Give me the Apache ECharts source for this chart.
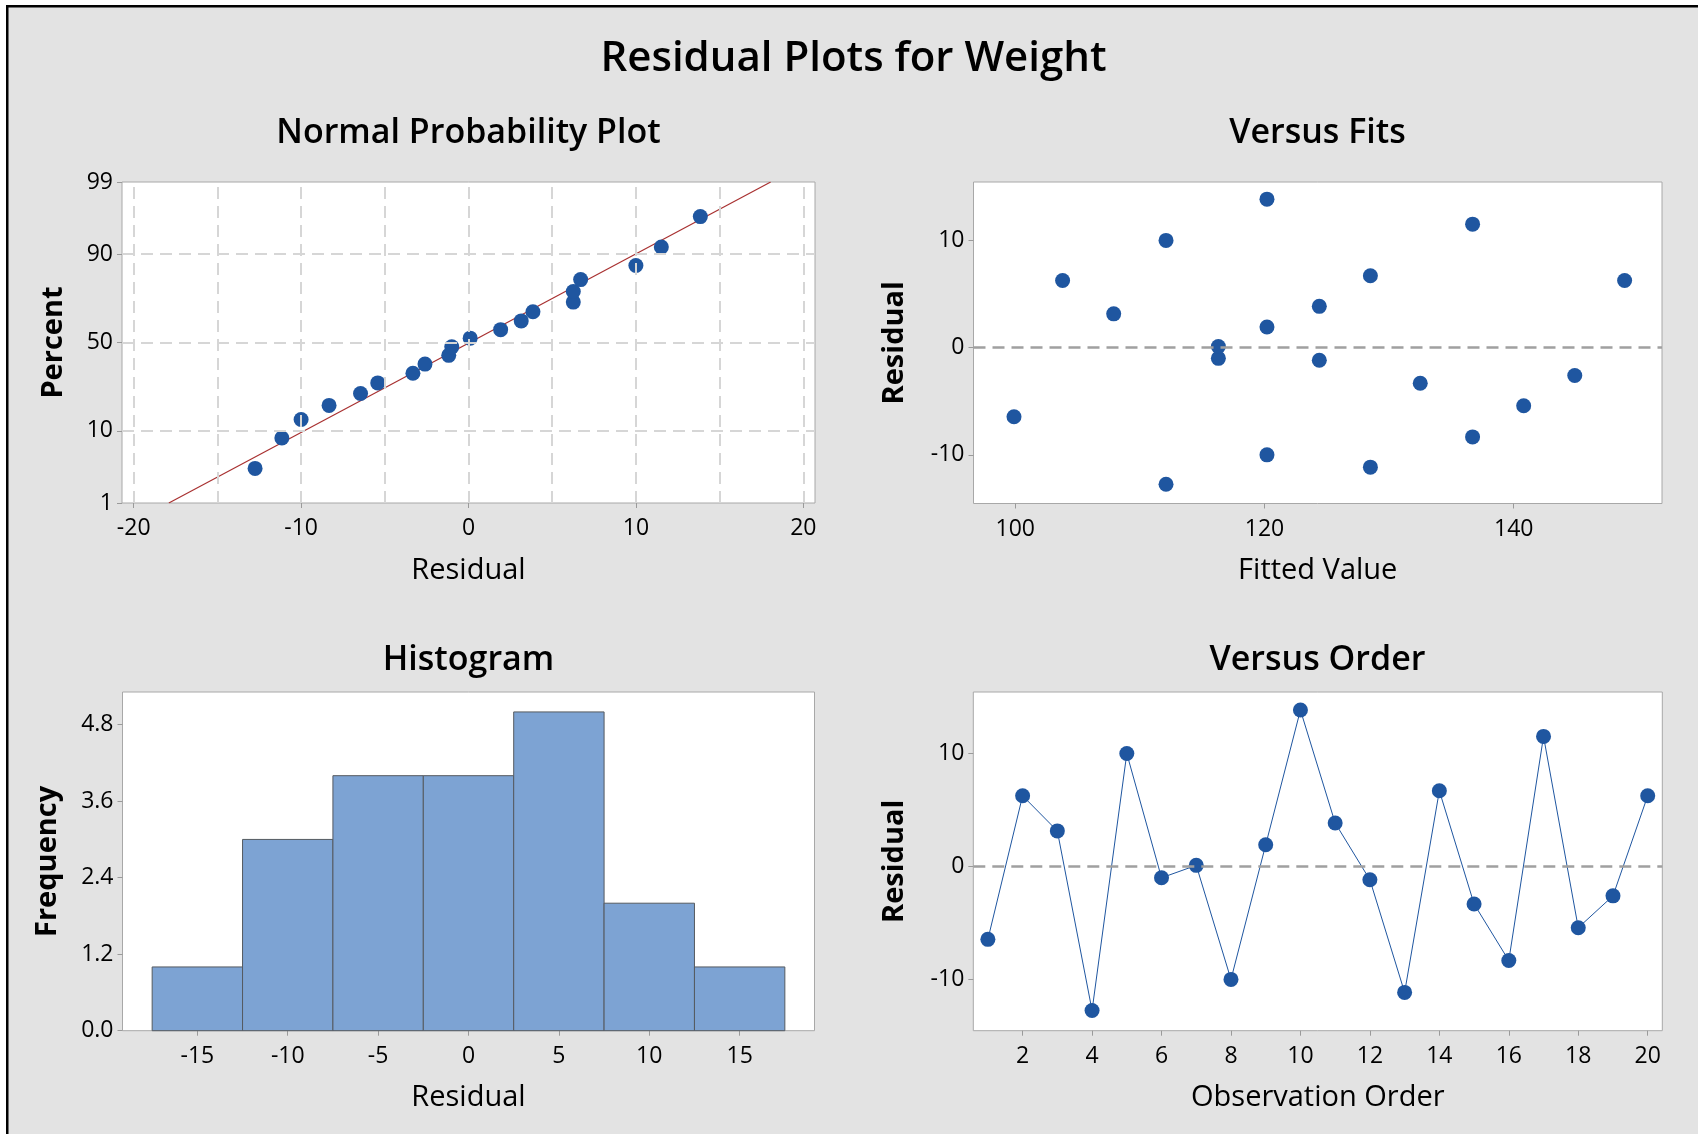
<!DOCTYPE html>
<html><head><meta charset="utf-8">
<script src="https://cdn.jsdelivr.net/npm/echarts@6/dist/echarts.min.js"></script>
<style>html,body{margin:0;padding:0;background:#fff;} #c{width:1698px;height:1134px;}</style>
</head><body><div id="c"></div>
<script>
// ---------------- data ----------------
const observationOrder = [1,2,3,4,5,6,7,8,9,10,11,12,13,14,15,16,17,18,19,20];
const fittedValues = [99.9,103.8,107.9,112.1,112.1,116.3,116.3,120.2,120.2,120.2,124.4,124.4,128.5,128.5,132.5,136.7,136.7,140.8,144.9,148.9];
const residuals = [-6.45,6.26,3.15,-12.75,10.0,-1.0,0.1,-10.0,1.92,13.85,3.85,-1.18,-11.15,6.7,-3.32,-8.33,11.52,-5.42,-2.6,6.26];
const normalPercent = [3.4,8.3,13.2,18.1,23.0,27.9,32.8,37.7,42.6,47.5,52.5,57.4,62.3,67.2,72.1,77.0,81.9,86.8,91.7,96.6];
const fitLineResidual = [-17.9, 18.05];
const fitLinePercent = [1, 99];
const binCenters = [-15,-10,-5,0,5,10,15];
const binCounts = [1,3,4,4,5,2,1];
const binWidth = 5;

// tick labels
const normalXTicks = [-20,-10,0,10,20];
const normalXGrid = [-20,-15,-10,-5,0,5,10,15,20];
const percentTicks = [1,10,50,90,99];
const percentGrid = [10,50,90,99];
const fitsXTicks = [100,120,140];
const residualTicks = [-10,0,10];
const histXTicks = [-15,-10,-5,0,5,10,15];
const freqTicks = [0,1.2,2.4,3.6,4.8];
const orderTicks = [2,4,6,8,10,12,14,16,18,20];

// ---------------- helpers ----------------
function probit(p){
 const a=[-3.969683028665376e+01,2.209460984245205e+02,-2.759285104469687e+02,1.383577518672690e+02,-3.066479806614716e+01,2.506628277459239e+00];
 const b=[-5.447609879822406e+01,1.615858368580409e+02,-1.556989798598866e+02,6.680131188771972e+01,-1.328068155288572e+01];
 const c=[-7.784894002430293e-03,-3.223964580411365e-01,-2.400758277161838e+00,-2.549732539343734e+00,4.374664141464968e+00,2.938163982698783e+00];
 const d=[7.784695709041462e-03,3.224671290700398e-01,2.445134137142996e+00,3.754408661907416e+00];
 const pl=0.02425, ph=1-pl; let q,r;
 if(p<pl){q=Math.sqrt(-2*Math.log(p));return (((((c[0]*q+c[1])*q+c[2])*q+c[3])*q+c[4])*q+c[5])/((((d[0]*q+d[1])*q+d[2])*q+d[3])*q+1);}
 if(p<=ph){q=p-0.5;r=q*q;return (((((a[0]*r+a[1])*r+a[2])*r+a[3])*r+a[4])*r+a[5])*q/(((((b[0]*r+b[1])*r+b[2])*r+b[3])*r+b[4])*r+1);}
 q=Math.sqrt(-2*Math.log(1-p));return -(((((c[0]*q+c[1])*q+c[2])*q+c[3])*q+c[4])*q+c[5])/((((d[0]*q+d[1])*q+d[2])*q+d[3])*q+1);
}
const FONT = '"Open Sans", "Noto Sans", sans-serif';
const DOT = '#1f56a0';
const TICKCOL = '#9a9a9a';
const DOTSIZE = 15;
const sortedResiduals = residuals.slice().sort((x,y)=>x-y);
const zTicks = percentTicks.map(p=>probit(p/100));

function valAxis(gridIndex, min, max, ticks, fmt, name, nameGap, isY){
  return {
    type:'value', gridIndex, min, max,
    axisLine:{show:false, onZero:false}, splitLine:{show:false}, axisPointer:{show:false},
    axisTick:{show:true, length:5, customValues:ticks, lineStyle:{color:TICKCOL, width:1}},
    axisLabel:{customValues:ticks, formatter:fmt, color:'#000', fontSize:23, fontFamily:FONT, margin: isY?9:14},
    name, nameLocation:'middle', nameGap,
    nameTextStyle: isY ? {fontSize:29, fontWeight:'bold', fontFamily:FONT, color:'#000'}
                       : {fontSize:29, fontFamily:FONT, color:'#000'}
  };
}
const gridStyle = {show:true, backgroundColor:'#fff', borderColor:'#a8a8a8', borderWidth:1, containLabel:false};
function zeroLine(){
  return {silent:true, symbol:['none','none'], label:{show:false}, animation:false,
    lineStyle:{color:'#a0a0a0', width:2.5, type:[12,7]}, data:[{yAxis:0}]};
}
function titleText(x, y, text, size){
  return {type:'text', x, y, silent:true, style:{text, fontSize:size, fontWeight:600, fontFamily:FONT, fill:'#000', textAlign:'center', textVerticalAlign:'middle'}};
}

const chart = echarts.init(document.getElementById('c'), null, {renderer:'canvas'});
chart.setOption({
  animation:false,
  backgroundColor:'#e3e3e3',
  textStyle:{fontFamily:FONT},
  graphic:[
    {type:'rect', shape:{x:0,y:0,width:1698,height:5}, style:{fill:'#fff'}, silent:true},
    {type:'rect', shape:{x:0,y:0,width:6,height:1134}, style:{fill:'#fff'}, silent:true},
    {type:'rect', shape:{x:6,y:5,width:1692,height:2.5}, style:{fill:'#000'}, silent:true},
    {type:'rect', shape:{x:6,y:5,width:2.5,height:1129}, style:{fill:'#000'}, silent:true},
    titleText(853.5, 59, 'Residual Plots for Weight', 42),
    titleText(468.5, 133, 'Normal Probability Plot', 34),
    titleText(1317.5, 133, 'Versus Fits', 34),
    titleText(468.5, 660, 'Histogram', 34),
    titleText(1317.5, 660, 'Versus Order', 34)
  ],
  grid:[
    Object.assign({left:122, top:182, width:693, height:321}, gridStyle),
    Object.assign({left:973.5, top:182, width:688.5, height:321.5}, gridStyle),
    Object.assign({left:122.5, top:692, width:692, height:338.7}, gridStyle),
    Object.assign({left:973.3, top:692, width:689, height:338.7}, gridStyle)
  ],
  xAxis:[
    valAxis(0, -20.7, 20.7, normalXTicks, v=>String(v), 'Residual', 53, false),
    valAxis(1, 96.65, 151.9, fitsXTicks, v=>String(v), 'Fitted Value', 53, false),
    valAxis(2, -19.14, 19.14, histXTicks, v=>String(v), 'Residual', 53, false),
    valAxis(3, 0.58, 20.42, orderTicks, v=>String(v), 'Observation Order', 53, false)
  ],
  yAxis:[
    valAxis(0, probit(0.01), probit(0.99), zTicks, v=>{let i=zTicks.findIndex(z=>Math.abs(z-v)<1e-6);return i>=0?String(percentTicks[i]):'';}, 'Percent', 54, true),
    valAxis(1, -14.54, 15.45, residualTicks, v=>String(v), 'Residual', 64, true),
    valAxis(2, 0, 5.3125, freqTicks, v=>v.toFixed(1), 'Frequency', 60, true),
    valAxis(3, -14.54, 15.45, residualTicks, v=>String(v), 'Residual', 64, true)
  ],
  series:[
    {type:'line', xAxisIndex:0, yAxisIndex:0, z:2, symbol:'none', silent:true,
     data: fitLineResidual.map((r,i)=>[r, probit(fitLinePercent[i]/100)]),
     lineStyle:{color:'#a83030', width:1.2},
     markLine:{silent:true, symbol:['none','none'], label:{show:false}, animation:false,
       lineStyle:{color:'#d6d6d6', width:2, type:[12,7]},
       data: normalXGrid.map(v=>({xAxis:v})).concat(percentGrid.map(p=>({yAxis:probit(p/100)})))}},
    {type:'scatter', xAxisIndex:0, yAxisIndex:0, z:3, symbolSize:DOTSIZE, itemStyle:{color:DOT, opacity:1},
     data: sortedResiduals.map((r,i)=>[r, probit(normalPercent[i]/100)])},
    {type:'scatter', xAxisIndex:1, yAxisIndex:1, z:3, symbolSize:DOTSIZE, itemStyle:{color:DOT, opacity:1},
     data: fittedValues.map((f,i)=>[f, residuals[i]]), markLine: zeroLine()},
    {type:'custom', xAxisIndex:2, yAxisIndex:2, z:3, silent:true,
     data: binCenters.map((c,i)=>[c, binCounts[i]]),
     encode:{x:0, y:1}, label:{show:false},
     renderItem:function(params, api){
       const c = api.value(0), h = api.value(1);
       const p0 = api.coord([c - binWidth/2, h]);
       const p1 = api.coord([c + binWidth/2, 0]);
       return {type:'rect', shape:{x:p0[0], y:p0[1], width:p1[0]-p0[0], height:p1[1]-p0[1]},
               style:{fill:'#7da3d3', stroke:'#555a60', lineWidth:1}};
     }},
    {type:'line', xAxisIndex:3, yAxisIndex:3, z:3, symbol:'circle', symbolSize:DOTSIZE,
     itemStyle:{color:DOT, opacity:1}, lineStyle:{color:DOT, width:1},
     data: observationOrder.map((o,i)=>[o, residuals[i]]), markLine: zeroLine()}
  ]
});
</script></body></html>
